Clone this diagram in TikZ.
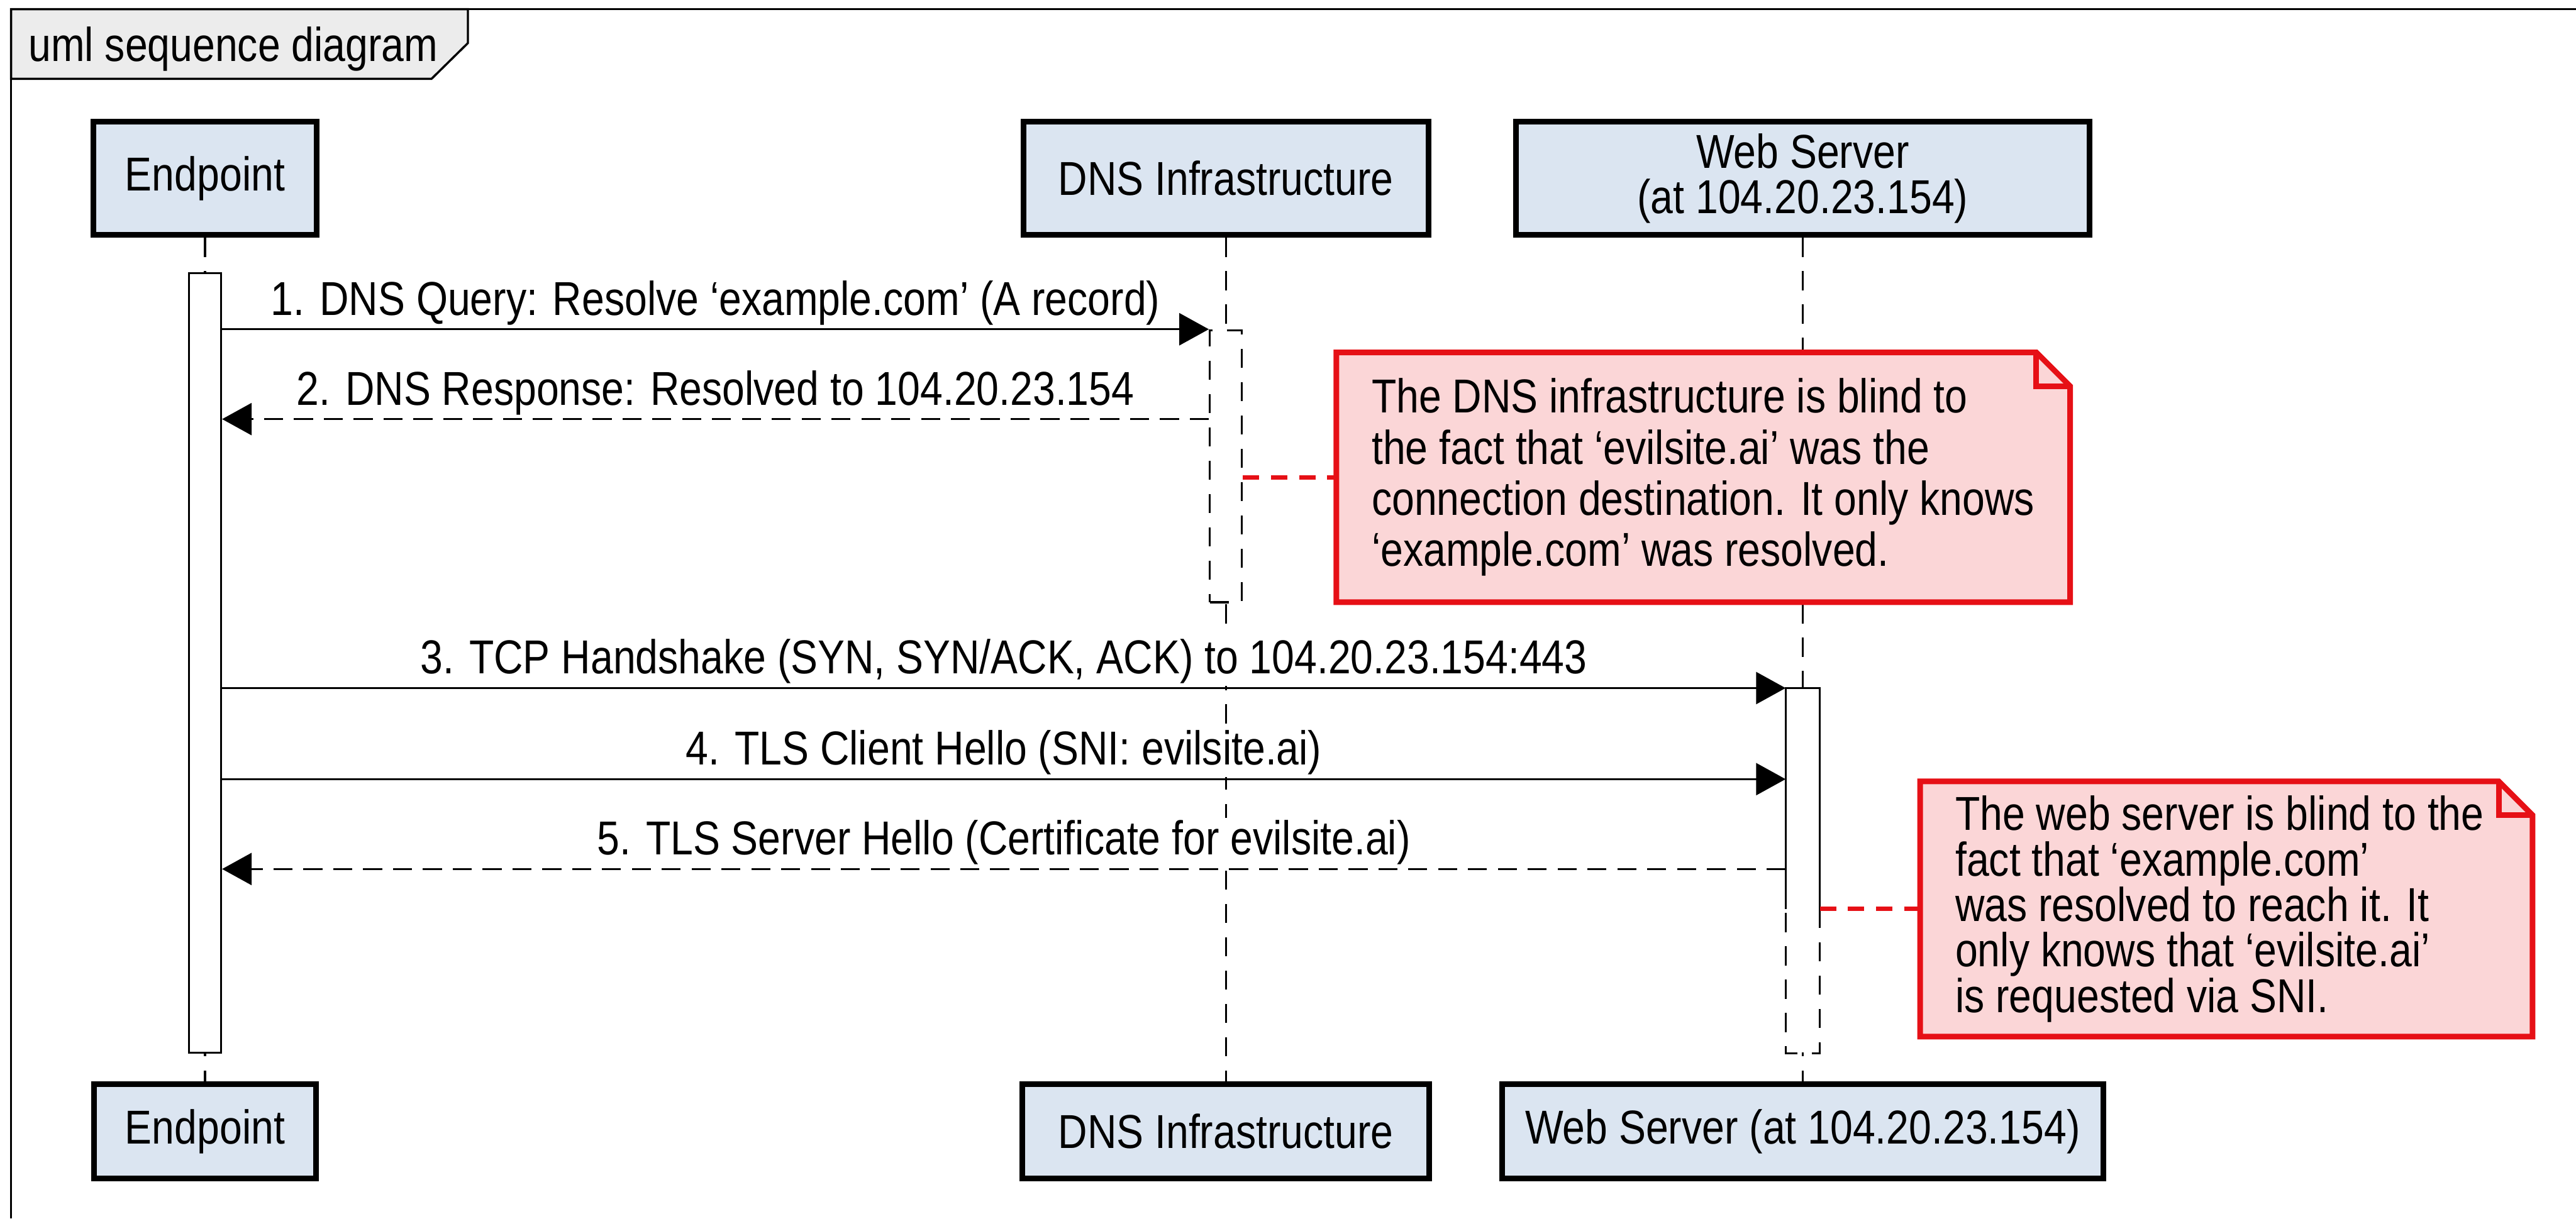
\documentclass[tikz,border=0pt]{standalone}
\usepackage{fontspec}
\setmainfont{Liberation Sans}[FakeStretch=0.85]
\usetikzlibrary{arrows.meta,positioning,calc,backgrounds}
\definecolor{headblue}{RGB}{219,229,241}
\definecolor{tabgray}{RGB}{236,236,236}
\definecolor{notepink}{RGB}{251,214,215}
\definecolor{notered}{RGB}{230,16,22}

% text sizes; the tight one packs lines closer
\newcommand\plainlines{\fontsize{11}{11.8}\selectfont}
\newcommand\tightlines{\fontsize{11}{10.5}\selectfont\lineskiplimit=-20pt\relax}

\tikzset{
  lbl/.style={font=\plainlines},
  tight/.style={font=\tightlines},
  actor/.style={draw, line width=1.3pt, fill=headblue, inner sep=0pt,
    minimum height=9.2mm, align=center, tight},
  foot/.style={actor, minimum height=7.65mm},
  lifeline/.style={line width=0.45pt, dash pattern=on 4.4pt off 3.3pt},
  actbox/.style={fill=white, line width=0.5pt, minimum width=2.6mm,
    inner sep=0pt, anchor=north},
  msg/.style={line width=0.5pt, -{Triangle[length=2.4mm,width=2.6mm]}},
  reply/.style={msg, dash pattern=on 4.4pt off 2.5pt},
  msglabel/.style={lbl, fill=white, inner sep=0.5pt, anchor=base, yshift=1.15mm},
  notearea/.style={inner sep=0pt},
  notetext/.style={align=left, inner sep=0pt, anchor=west},
  notepaper/.style={draw=notered, line width=1.3pt, fill=notepink},
  noteline/.style={draw=notered, line width=1pt, dash pattern=on 3.8pt off 2.7pt}
}

% note with a folded top right corner
\newcommand\foldednote[1]{%
  \filldraw[notepaper] (#1.north west) -- ([xshift=-2.75mm]#1.north east)
    -- ([yshift=-2.75mm]#1.north east) -- (#1.south east) -- (#1.south west) -- cycle;
  \draw[notepaper, fill=none] ([xshift=-2.75mm]#1.north east)
    |- ([yshift=-2.75mm]#1.north east);
}

\begin{document}
\begin{tikzpicture}
  \useasboundingbox (0,0) rectangle (20.92,9.9);

  % frame and its tab
  \draw[line width=0.5pt] (20.92,9.825) -- (0.09,9.825) -- (0.09,0);
  \filldraw[fill=tabgray, line width=0.5pt] (0.09,9.825) -- (3.8,9.825) -- (3.8,9.55)
    -- (3.505,9.26) -- (0.09,9.26) -- cycle;
  \node[lbl, anchor=base west, inner sep=0pt] (title) at (0.225,9.4) {uml sequence diagram};

  % participants
  \node[actor, minimum width=18.1mm] (ep) at (1.665,8.45) {Endpoint};
  \node[actor, minimum width=32.9mm] (dns) at (9.955,8.45) {DNS Infrastructure};
  \node[actor, minimum width=46.6mm] (web) at (14.64,8.45) {Web Server\\(at 104.20.23.154)};
  \node[foot, minimum width=18mm] (epfoot) at (1.665,0.7075) {Endpoint};
  \node[foot, minimum width=33.05mm] (dnsfoot) at (9.955,0.7075) {DNS Infrastructure};
  \node[foot, minimum width=48.8mm] (webfoot) at (14.64,0.7075) {Web Server (at 104.20.23.154)};

  % note areas
  \node[notearea, minimum width=59.45mm, minimum height=20.15mm] (dnsnote) at (13.8325,6.0225) {};
  \node[notearea, minimum width=49.6mm, minimum height=20.6mm] (webnote) at (18.08,2.515) {};

  % activations
  \node[actbox, draw, minimum height=63.35mm] (epact) at (1.665,7.69) {};
  \node[actbox, draw, lifeline, minimum height=22.1mm] (dnsact) at (9.955,7.225) {};
  \node[actbox, minimum height=29.5mm] (webact) at (14.64,4.31) {};

  \begin{scope}[on background layer]
    \draw[lifeline] (ep) -- (epfoot);
    \draw[lifeline] (dns) -- (dnsfoot);
    \draw[lifeline] (web) -- (webfoot);
    \foldednote{dnsnote}
    \foldednote{webnote}
  \end{scope}

  \draw[line width=0.5pt] (webact.west |- webnote.west) -- (webact.north west)
    -- (webact.north east) -- (webact.east |- webnote.west);
  \draw[lifeline] (webact.east |- webnote.west) -- (webact.south east)
    -- (webact.south west) -- (webact.west |- webnote.west);

  % message rows
  \coordinate (row2) at (0,6.495);
  \coordinate (row4) at (0,3.57);
  \coordinate (row5) at (0,2.84);

  \draw[msg] (epact.east |- dnsact.north) -- node[msglabel] (m1)
    {1. DNS Query: Resolve ‘example.com’ (A record)} (dnsact.north west);
  \draw[reply] (dnsact.west |- row2) -- node[msglabel] (m2)
    {2. DNS Response: Resolved to 104.20.23.154} (epact.east |- row2);
  \draw[msg] (epact.east |- webact.north) -- node[msglabel] (m3)
    {3. TCP Handshake (SYN, SYN/ACK, ACK) to 104.20.23.154:443} (webact.north west);
  \draw[msg] (epact.east |- row4) -- node[msglabel] (m4)
    {4. TLS Client Hello (SNI: evilsite.ai)} (webact.west |- row4);
  \draw[reply] (webact.west |- row5) -- node[msglabel] (m5)
    {5. TLS Server Hello (Certificate for evilsite.ai)} (epact.east |- row5);

  % notes
  \node[notetext, lbl] (dnsnotetext) at ([xshift=2.8mm]dnsnote.west)
    {The DNS infrastructure is blind to\\the fact that ‘evilsite.ai’ was the\\
     connection destination. It only knows\\‘example.com’ was resolved.};
  \node[notetext, tight] (webnotetext) at ([xshift=2.8mm]webnote.west)
    {The web server is blind to the\\fact that ‘example.com’\\was resolved to reach it. It\\
     only knows that ‘evilsite.ai’\\is requested via SNI.};
  \draw[noteline] (dnsact.east |- dnsnote.west) -- (dnsnote.west);
  \draw[noteline] (webact.east |- webnote.west) -- (webnote.west);
\end{tikzpicture}
\end{document}
